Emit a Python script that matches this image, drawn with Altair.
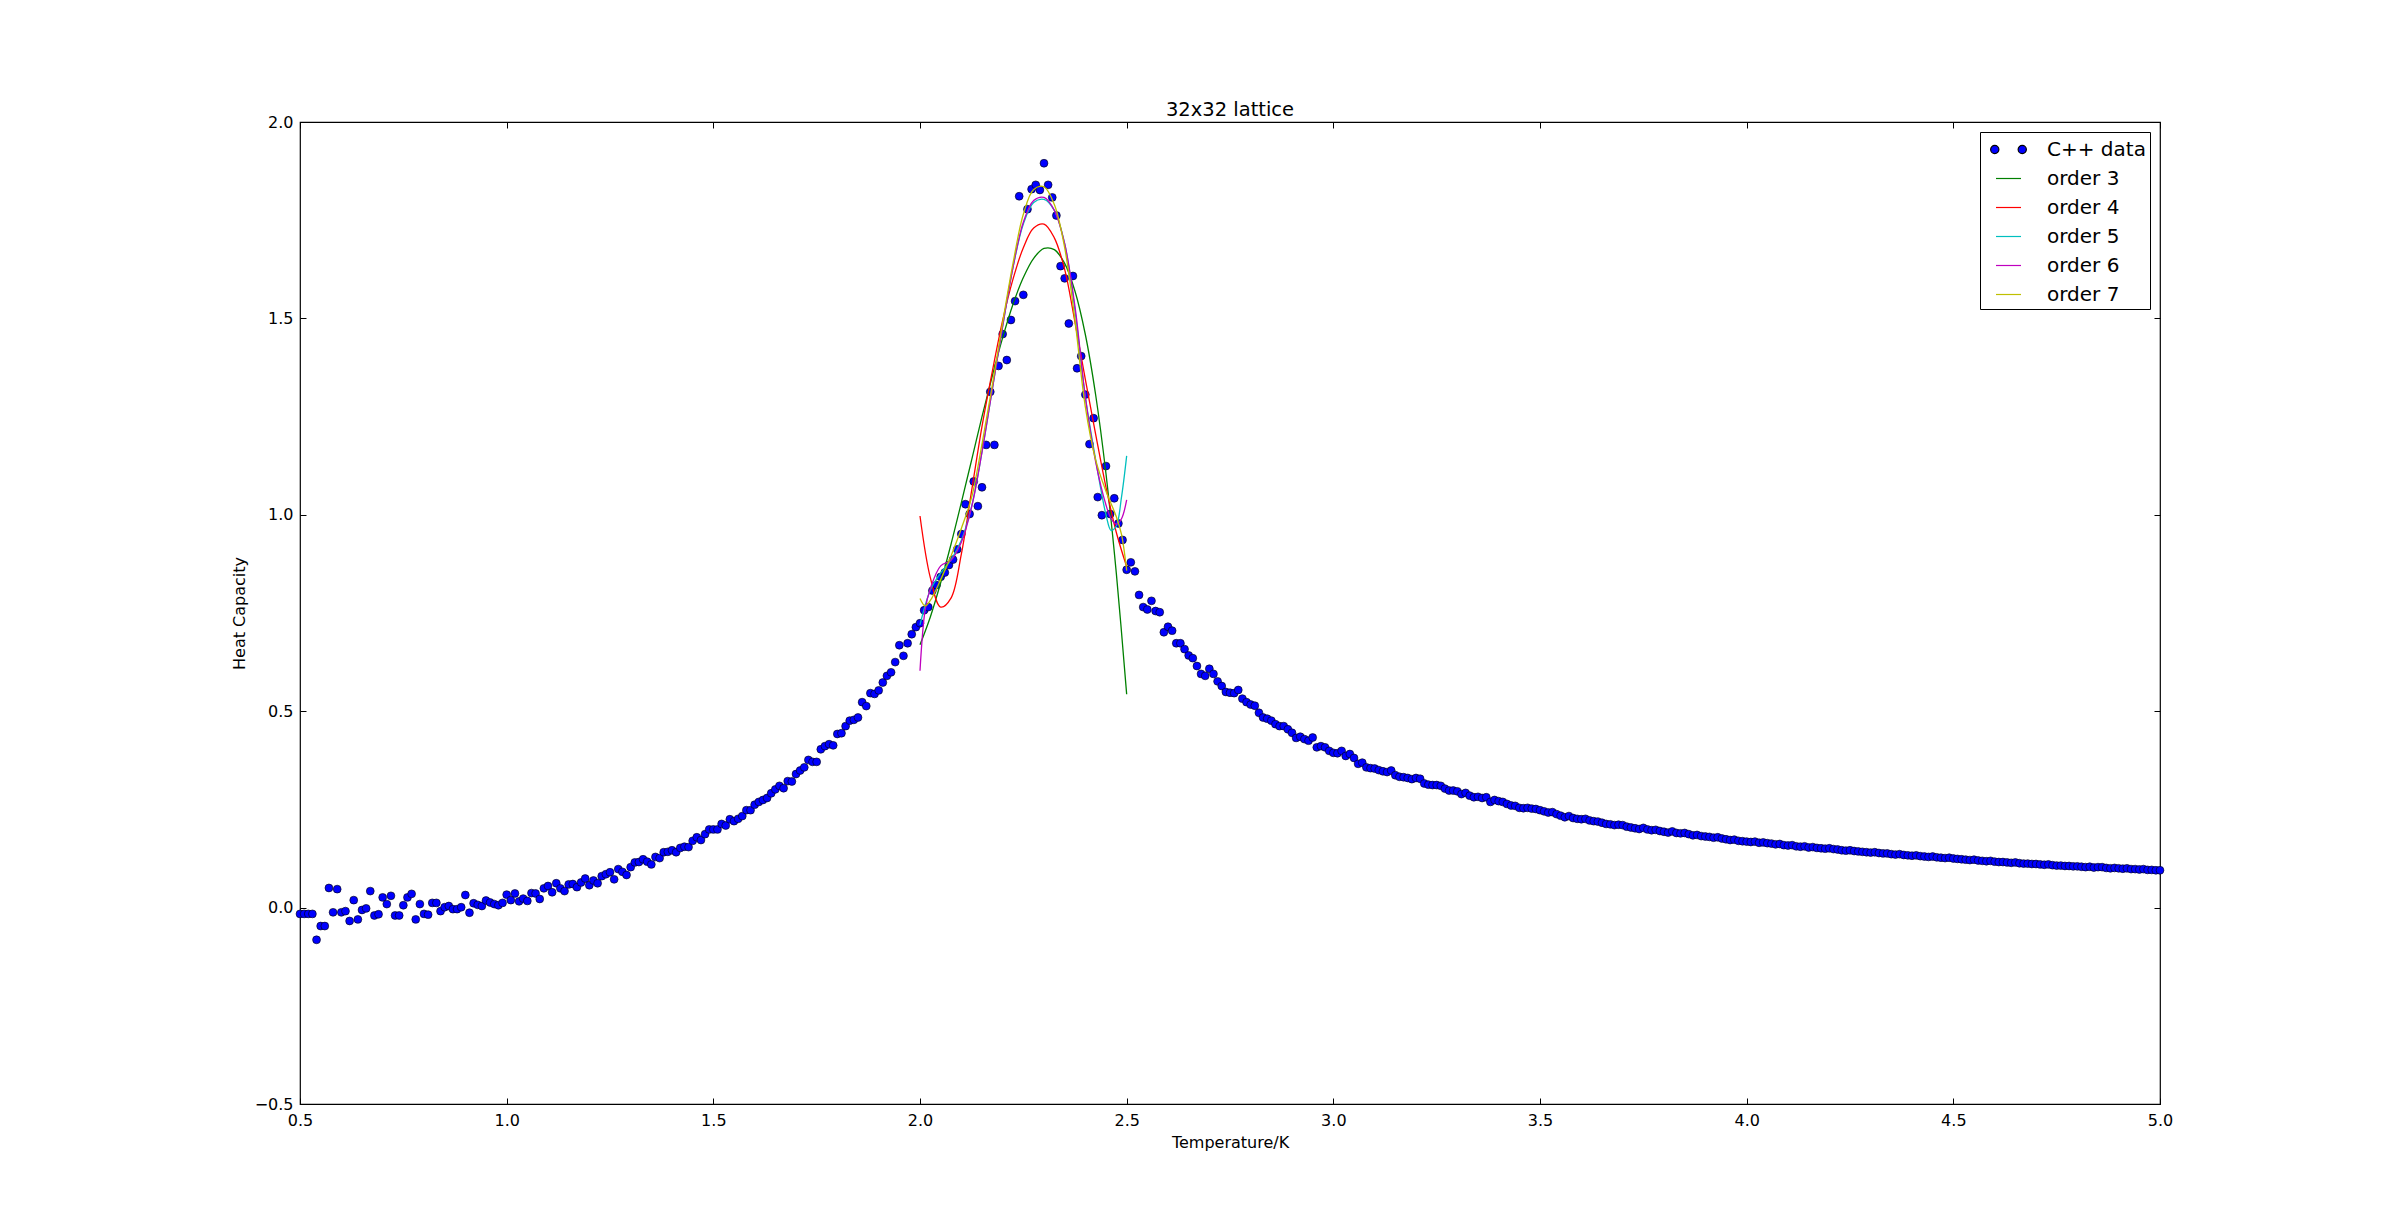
import altair as alt
import pandas as pd

# ---------------- data ----------------
T_START = 0.50
T_STEP = 0.01
heat = [
    -0.016, -0.016, -0.016, -0.016, -0.082, -0.047, -0.047, 0.050, -0.012, 0.047,
    -0.012, -0.009, -0.034, 0.019, -0.030, -0.006, -0.002, 0.042, -0.020, -0.017,
    0.026, 0.009, 0.030, -0.020, -0.020, 0.006, 0.026, 0.035, -0.030, 0.009,
    -0.016, -0.018, 0.012, 0.012, -0.009, 0.001, 0.004, -0.004, -0.004, 0.001,
    0.032, -0.013, 0.011, 0.007, 0.004, 0.018, 0.013, 0.009, 0.006, 0.012,
    0.033, 0.019, 0.036, 0.016, 0.023, 0.017, 0.037, 0.036, 0.022, 0.049,
    0.055, 0.039, 0.062, 0.049, 0.042, 0.059, 0.060, 0.052, 0.064, 0.074,
    0.057, 0.069, 0.062, 0.080, 0.085, 0.090, 0.072, 0.098, 0.091, 0.083,
    0.103, 0.115, 0.116, 0.123, 0.117, 0.110, 0.129, 0.126, 0.141, 0.142,
    0.146, 0.141, 0.152, 0.155, 0.154, 0.170, 0.179, 0.172, 0.187, 0.199,
    0.199, 0.199, 0.213, 0.209, 0.225, 0.220, 0.226, 0.233, 0.248, 0.248,
    0.262, 0.269, 0.274, 0.279, 0.291, 0.301, 0.310, 0.304, 0.322, 0.321,
    0.340, 0.349, 0.357, 0.376, 0.371, 0.371, 0.403, 0.411, 0.416, 0.413,
    0.442, 0.444, 0.462, 0.476, 0.478, 0.484, 0.523, 0.513, 0.546, 0.544,
    0.553, 0.573, 0.590, 0.599, 0.625, 0.668, 0.641, 0.673, 0.696, 0.714,
    0.724, 0.757, 0.765, 0.807, 0.821, 0.842, 0.853, 0.872, 0.886, 0.912,
    0.951, 1.027, 1.002, 1.085, 1.022, 1.070, 1.178, 1.313, 1.178, 1.379,
    1.460, 1.394, 1.496, 1.544, 1.811, 1.560, 1.778, 1.829, 1.840, 1.827,
    1.895, 1.840, 1.808, 1.762, 1.633, 1.602, 1.487, 1.608, 1.373, 1.404,
    1.306, 1.180, 1.246, 1.045, 0.999, 1.124, 1.002, 1.042, 0.978, 0.936,
    0.860, 0.879, 0.856, 0.796, 0.765, 0.759, 0.781, 0.755, 0.752, 0.701,
    0.715, 0.705, 0.673, 0.673, 0.658, 0.642, 0.635, 0.615, 0.595, 0.590,
    0.608, 0.595, 0.576, 0.564, 0.549, 0.547, 0.546, 0.554, 0.532, 0.523,
    0.517, 0.514, 0.496, 0.484, 0.481, 0.476, 0.467, 0.462, 0.462, 0.454,
    0.445, 0.432, 0.435, 0.429, 0.425, 0.433, 0.408, 0.411, 0.408, 0.399,
    0.394, 0.393, 0.399, 0.386, 0.391, 0.381, 0.366, 0.369, 0.357, 0.355,
    0.354, 0.350, 0.347, 0.345, 0.349, 0.337, 0.333, 0.332, 0.330, 0.327,
    0.330, 0.328, 0.316, 0.313, 0.312, 0.312, 0.310, 0.303, 0.298, 0.298,
    0.296, 0.289, 0.292, 0.285, 0.281, 0.282, 0.279, 0.281, 0.269, 0.274,
    0.271, 0.269, 0.264, 0.260, 0.259, 0.254, 0.253, 0.254, 0.252, 0.251,
    0.248, 0.245, 0.242, 0.243, 0.238, 0.234, 0.230, 0.233, 0.228, 0.226,
    0.225, 0.226, 0.222, 0.220, 0.219, 0.216, 0.213, 0.212, 0.210, 0.211,
    0.210, 0.206, 0.204, 0.202, 0.200, 0.203, 0.199, 0.197, 0.198, 0.195,
    0.193, 0.191, 0.194, 0.190, 0.189, 0.190, 0.187, 0.184, 0.185, 0.182,
    0.181, 0.180, 0.178, 0.179, 0.176, 0.174, 0.172, 0.173, 0.170, 0.169,
    0.168, 0.167, 0.168, 0.165, 0.166, 0.164, 0.163, 0.161, 0.162, 0.159,
    0.158, 0.159, 0.156, 0.155, 0.156, 0.153, 0.154, 0.152, 0.151, 0.150,
    0.151, 0.149, 0.148, 0.146, 0.145, 0.146, 0.144, 0.143, 0.142, 0.141,
    0.140, 0.141, 0.139, 0.138, 0.138, 0.136, 0.135, 0.136, 0.134, 0.133,
    0.132, 0.133, 0.131, 0.130, 0.129, 0.130, 0.128, 0.127, 0.126, 0.127,
    0.125, 0.124, 0.123, 0.122, 0.121, 0.122, 0.120, 0.119, 0.118, 0.119,
    0.117, 0.116, 0.116, 0.115, 0.114, 0.115, 0.113, 0.112, 0.112, 0.111,
    0.111, 0.110, 0.109, 0.110, 0.108, 0.107, 0.107, 0.106, 0.106, 0.105,
    0.105, 0.104, 0.103, 0.104, 0.102, 0.103, 0.103, 0.101, 0.100, 0.101,
    0.100, 0.099, 0.100, 0.098, 0.098, 0.097, 0.098, 0.096, 0.096, 0.095,
    0.095,
]
temps = [round(T_START + T_STEP * i, 2) for i in range(len(heat))]

fit_T = [2.000, 2.025, 2.050, 2.075, 2.100, 2.125, 2.150, 2.175, 2.200, 2.225,
         2.250, 2.275, 2.300, 2.325, 2.350, 2.375, 2.400, 2.425, 2.450, 2.475, 2.500]
order3 = [0.669, 0.740, 0.827, 0.925, 1.031, 1.140, 1.250, 1.354, 1.451, 1.536,
          1.604, 1.653, 1.678, 1.675, 1.640, 1.569, 1.459, 1.305, 1.104, 0.851, 0.543]
order4 = [0.997, 0.840, 0.765, 0.788, 0.900, 1.062, 1.225, 1.365, 1.495, 1.600,
          1.680, 1.730, 1.740, 1.705, 1.625, 1.490, 1.345, 1.205, 1.070, 0.955, 0.868]

order5_T = [2.000, 2.025, 2.050, 2.075, 2.100, 2.125, 2.150, 2.175, 2.200, 2.225, 2.250,
            2.275, 2.300, 2.325, 2.350, 2.375, 2.400, 2.425, 2.450, 2.4625, 2.475, 2.4875, 2.500]
order5 = [0.720, 0.808, 0.852, 0.885, 0.935, 1.022, 1.160, 1.320, 1.480, 1.630, 1.740,
          1.795, 1.803, 1.775, 1.690, 1.520, 1.300, 1.140, 1.000, 0.960, 0.972, 1.045, 1.150]

order6_T = [2.000, 2.0125, 2.025, 2.050, 2.075, 2.100, 2.125, 2.150, 2.175, 2.200, 2.225, 2.250,
            2.275, 2.300, 2.325, 2.350, 2.375, 2.400, 2.425, 2.450, 2.4625, 2.475, 2.4875, 2.500]
order6 = [0.603, 0.758, 0.812, 0.870, 0.884, 0.930, 1.020, 1.160, 1.320, 1.480, 1.630, 1.745,
          1.800, 1.808, 1.775, 1.690, 1.530, 1.300, 1.135, 1.025, 0.990, 0.976, 0.990, 1.038]

order7_T = [2.000, 2.0125, 2.025, 2.050, 2.075, 2.100, 2.125, 2.150, 2.175, 2.200, 2.225, 2.250,
            2.275, 2.300, 2.325, 2.350, 2.375, 2.400, 2.425, 2.450, 2.475, 2.4875, 2.500]
order7 = [0.787, 0.768, 0.782, 0.835, 0.895, 0.965, 1.045, 1.180, 1.330, 1.490, 1.640, 1.765,
          1.828, 1.835, 1.790, 1.680, 1.495, 1.275, 1.140, 1.060, 0.995, 0.950, 0.858]

series_names = ["C++ data", "order 3", "order 4", "order 5", "order 6", "order 7"]
series_colors = ["#0000ff", "#008000", "#ff0000", "#00bfbf", "#bf00bf", "#bfbf00"]
legend_strokes = ["#000000", "#008000", "#ff0000", "#00bfbf", "#bf00bf", "#bfbf00"]
two_dots = ("M-0.77,0A0.33,0.33,0,1,1,-1.43,0A0.33,0.33,0,1,1,-0.77,0Z"
            "M1.43,0A0.33,0.33,0,1,1,0.77,0A0.33,0.33,0,1,1,1.43,0Z")
legend_shapes = [two_dots, "stroke", "stroke", "stroke", "stroke", "stroke"]

x_ticks = [0.5, 1.0, 1.5, 2.0, 2.5, 3.0, 3.5, 4.0, 4.5, 5.0]
y_ticks = [-0.5, 0.0, 0.5, 1.0, 1.5, 2.0]

# ---------------- chart ----------------
FONT = "DejaVu Sans"
xscale = alt.Scale(domain=[0.5, 5.0], nice=False, zero=False)
yscale = alt.Scale(domain=[-0.5, 2.0], nice=False, zero=False)


def tick_axis(orient, values):
    return alt.Axis(orient=orient, values=values, labels=False, ticks=True, tickSize=6,
                    tickColor="black", tickWidth=1, domain=False, grid=False,
                    offset=-6, title=None, minExtent=0, maxExtent=0)


main_x = alt.Axis(orient="bottom", values=x_ticks, format=".1f", title="Temperature/K",
                  ticks=False, domain=False, grid=False, labelPadding=8, titlePadding=6,
                  labelFlush=False, labelOverlap=False,
                  labelFontSize=16, titleFontSize=16, labelFont=FONT, titleFont=FONT,
                  titleFontWeight="normal", labelColor="black", titleColor="black")
main_y = alt.Axis(orient="left", values=y_ticks, format=".1f", title="Heat Capacity",
                  ticks=False, domain=False, grid=False, labelPadding=7, titlePadding=7,
                  labelFlush=False, labelOverlap=False,
                  labelFontSize=16, titleFontSize=16, labelFont=FONT, titleFont=FONT,
                  titleFontWeight="normal", labelColor="black", titleColor="black")

df_pts = pd.DataFrame({"T": temps, "C": heat})
points = alt.Chart(df_pts).mark_circle(
    size=62, color="#0000ff", stroke="black", strokeWidth=0.6, opacity=1
).encode(
    x=alt.X("T:Q", scale=xscale, axis=main_x),
    y=alt.Y("C:Q", scale=yscale, axis=main_y),
)


def fit_layer(ts, cs, color, xaxis, yaxis):
    df = pd.DataFrame({"T": ts, "C": cs})
    return alt.Chart(df).mark_line(
        color=color, strokeWidth=1.3, interpolate="catmull-rom"
    ).encode(
        x=alt.X("T:Q", scale=xscale, axis=xaxis),
        y=alt.Y("C:Q", scale=yscale, axis=yaxis),
    )


l3 = fit_layer(fit_T, order3, series_colors[1], tick_axis("bottom", x_ticks), tick_axis("left", y_ticks))
l4 = fit_layer(fit_T, order4, series_colors[2], tick_axis("top", x_ticks), tick_axis("right", y_ticks))
l5 = fit_layer(order5_T, order5, series_colors[3], None, None)
l6 = fit_layer(order6_T, order6, series_colors[4], None, None)
l7 = fit_layer(order7_T, order7, series_colors[5], None, None)

# legend-only layer: rows without coordinates, so nothing is drawn in the plot
df_leg = pd.DataFrame({"series": series_names,
                       "T": [None] * len(series_names),
                       "C": [None] * len(series_names)})
legend_layer = alt.Chart(df_leg).mark_point(
    filled=False, fill="#0000ff", strokeWidth=1.2, opacity=1
).encode(
    x=alt.X("T:Q", scale=xscale, axis=None),
    y=alt.Y("C:Q", scale=yscale, axis=None),
    color=alt.Color("series:N", scale=alt.Scale(domain=series_names, range=legend_strokes),
                    legend=alt.Legend(title=None)),
    shape=alt.Shape("series:N", scale=alt.Scale(domain=series_names, range=legend_shapes),
                    legend=alt.Legend(title=None)),
)

chart = alt.layer(points, l3, l4, l5, l6, l7, legend_layer).resolve_axis(
    x="independent", y="independent"
).properties(
    width=1860,
    height=982,
    autosize=alt.AutoSizeParams(type="none"),
    padding={"left": 292, "top": 114, "right": 232, "bottom": 114},
    title=alt.Title("32x32 lattice", fontSize=19.5, font=FONT, fontWeight="normal",
                    anchor="middle", frame="group", baseline="alphabetic", offset=5.5,
                    dy=27, color="black"),
    background="white",
).configure_view(
    stroke="black", strokeWidth=1.2
).configure_legend(
    orient="top-right", offset=10, padding=4, strokeColor="black", strokeWidth=1,
    fillColor="white", cornerRadius=0, labelFontSize=20, labelFont=FONT,
    labelColor="black", symbolSize=625, symbolStrokeWidth=1.2, symbolOffset=11,
    labelOffset=25, rowPadding=5, labelLimit=400,
)

chart.save("out.html", embed_options={"renderer": "svg", "actions": False})
